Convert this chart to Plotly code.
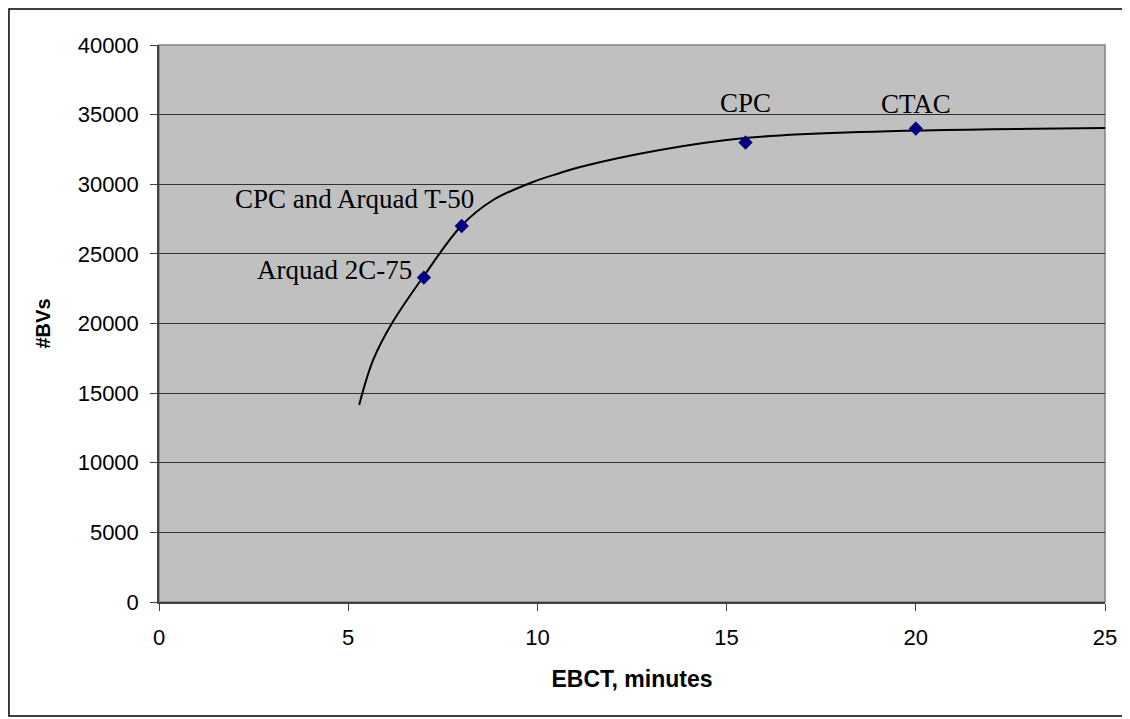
import plotly.graph_objects as go

# measured points
ebct = [7, 8, 15.5, 20]
bvs = [23300, 27000, 33000, 34000]
labels = ["Arquad 2C-75", "CPC and Arquad T-50", "CPC", "CTAC"]

# fitted curve
curve_x = [5.29, 5.66, 6.16, 6.98, 8.01, 8.83, 9.88, 10.6, 11.13, 13.24, 15.49, 18.53, 25.0]
curve_y = [14150, 17380, 20030, 23340, 27070, 28870, 30160, 30810, 31240, 32460, 33320, 33750, 34040]

x_ticks = [0, 5, 10, 15, 20, 25]
y_ticks = [0, 5000, 10000, 15000, 20000, 25000, 30000, 35000, 40000]

fig = go.Figure()
fig.add_trace(go.Scatter(x=curve_x, y=curve_y, mode='lines', line=dict(color='black', width=2, shape='spline', smoothing=1.0),
                         hoverinfo='skip', showlegend=False))
fig.add_trace(go.Scatter(x=ebct, y=bvs, mode='markers', marker=dict(symbol='diamond', color='#000080', size=11),
                         showlegend=False))

# label offsets (pixels) relative to each point
offsets = [(-10, 8, 'right'), (14, 27, 'right'), (0, 39, 'center'), (0, 25, 'center')]
for xv, yv, txt, (dx, dy, anc) in zip(ebct, bvs, labels, offsets):
    fig.add_annotation(x=xv, y=yv, text=txt, showarrow=False, xanchor=anc, yanchor='middle',
                       xshift=dx, yshift=dy, font=dict(family='Liberation Serif', size=27, color='black'))

# plot area border and outer chart border
fig.add_shape(type='rect', xref='paper', yref='paper', x0=0, y0=0, x1=1, y1=1,
              line=dict(color='#808080', width=1.5), layer='below')
fig.add_shape(type='rect', xref='paper', yref='paper', x0=-0.1586, y0=-0.2047, x1=1.0243, y1=1.0646,
              line=dict(color='black', width=1.5))

fig.update_layout(
    width=1122, height=711,
    margin=dict(l=151, r=25, t=37, b=117),
    paper_bgcolor='white',
    plot_bgcolor='#C0C0C0',
    font=dict(family='Liberation Sans, Arial', size=22, color='black'),
    xaxis=dict(range=[0, 25], tickvals=x_ticks, showgrid=False, zeroline=False,
               showline=True, linecolor='#404040', linewidth=1.5,
               ticks='outside', ticklen=7, tickcolor='#404040', ticklabelstandoff=8,
               title=dict(text='<b>EBCT, minutes</b>', font=dict(size=23), standoff=22)),
    yaxis=dict(range=[0, 40000], tickvals=y_ticks, tickformat='d', showgrid=True, gridcolor='#303030', gridwidth=1,
               zeroline=False, showline=True, linecolor='#404040', linewidth=1.5,
               ticks='outside', ticklen=7, tickcolor='#404040', ticklabelstandoff=7,
               title=dict(text='<b>#BVs</b>', font=dict(size=20), standoff=22)),
)

fig.write_html("out.html")
